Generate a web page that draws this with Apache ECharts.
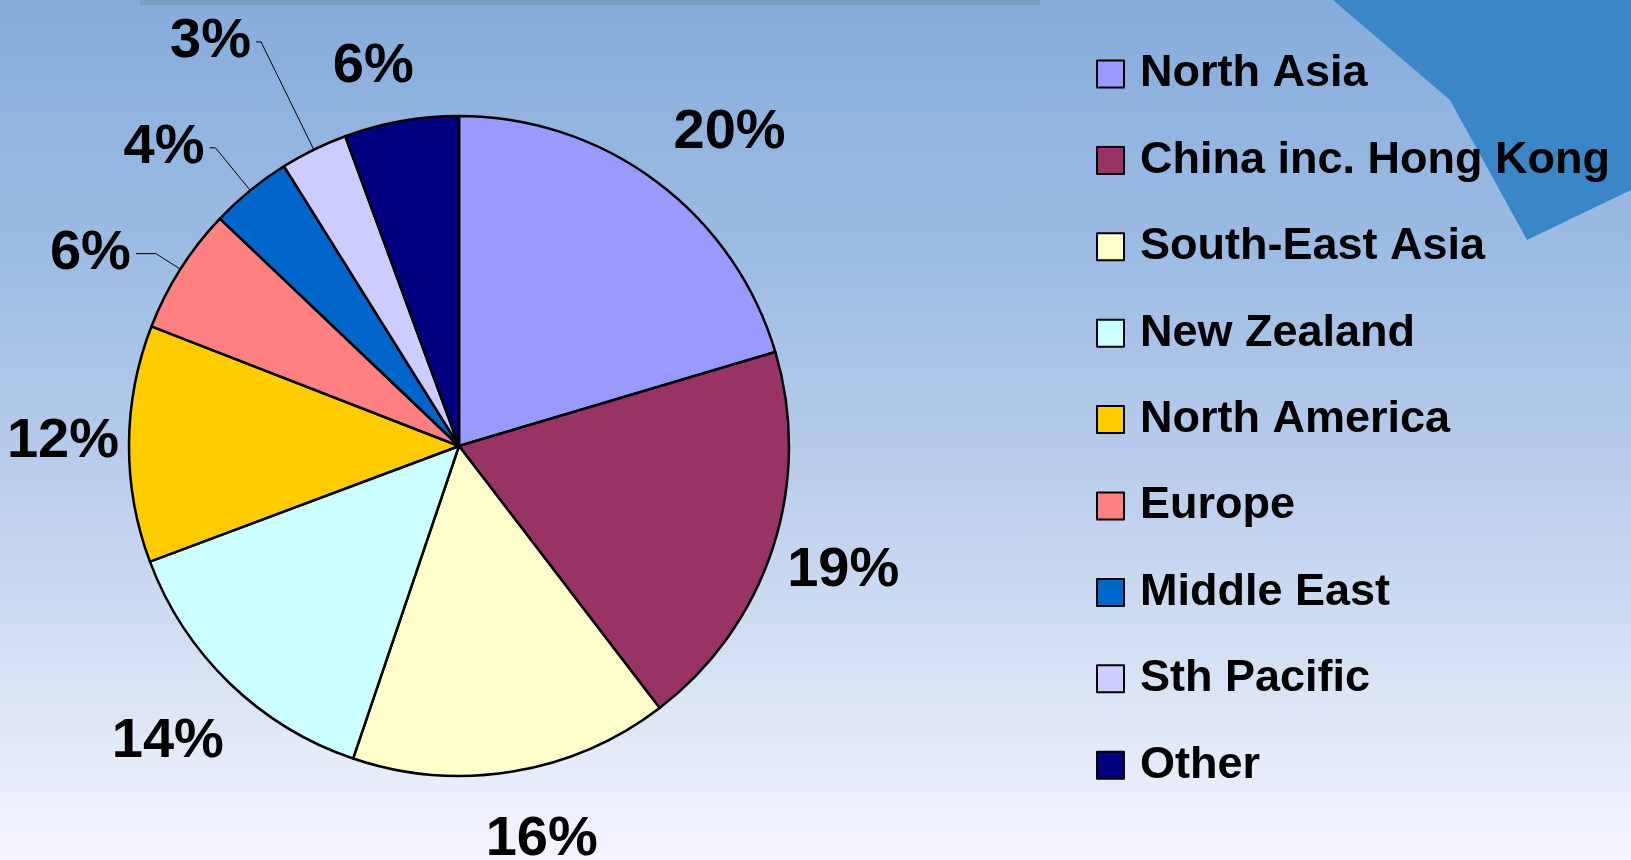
<!DOCTYPE html>
<html>
<head>
<meta charset="utf-8">
<script src="https://cdn.jsdelivr.net/npm/echarts@6/dist/echarts.min.js"></script>
<style>
html, body { margin: 0; padding: 0; }
#main {
  width: 1631px;
  height: 860px;
  background: linear-gradient(to bottom, #86acdc 0%, #9dbce4 30%, #b9cdeb 55%, #d6e2f4 78%, #f5f4ff 100%);
}
</style>
</head>
<body>
<div id="main"></div>
<script>
// share of total by region (percent)
var regions = ['North Asia', 'China inc. Hong Kong', 'South-East Asia', 'New Zealand',
  'North America', 'Europe', 'Middle East', 'Sth Pacific', 'Other'];
var shares = [20.4, 19.2, 15.6, 14.1, 11.6, 6.2, 4.0, 3.3, 5.6];

var sliceColors = ['#9999ff', '#993366', '#ffffcc', '#ccffff', '#ffcc00',
  '#ff8080', '#0066cc', '#ccccff', '#000080'];

// small slices get a leader line: [length, length2]
var leaderLines = {
  'Europe': [29, 20],
  'Middle East': [55, 6],
  'Sth Pacific': [120, 5]
};
// small shifts for the big labels, like the original's placement
var labelNudge = {
  'North Asia': [29, 10],
  'South-East Asia': [17, -5],
  'New Zealand': [-10, 5],
  'North America': [8, -2],
  'Other': [-15, 18]
};

var font = "'Liberation Sans', Arial, sans-serif";
var pctLabel = function (p) { return Math.round(p.percent) + '%'; };

var pieData = regions.map(function (name, i) {
  var item = { name: name, value: shares[i], itemStyle: { color: sliceColors[i] } };
  var ll = leaderLines[name];
  if (ll) {
    item.label = { show: true };
    item.labelLine = { show: true, length: ll[0], length2: ll[1] };
  }
  return item;
});

// transparent ring, only used to place the big labels around the pie
var ringData = regions.map(function (name, i) {
  return {
    name: name,
    value: shares[i],
    label: { show: !leaderLines[name], offset: labelNudge[name] || [0, 0] }
  };
});

var chart = echarts.init(document.getElementById('main'));
chart.setOption({
  animation: false,
  graphic: [
    {
      type: 'polygon',
      silent: true,
      z: -10,
      shape: { points: [[1333, 0], [1450, 100], [1527, 240], [1631, 190], [1631, 0]] },
      style: { fill: '#3a86c6' }
    },
    {
      type: 'rect',
      silent: true,
      z: -10,
      shape: { x: 140, y: 0, width: 900, height: 5 },
      style: { fill: 'rgba(100,150,160,0.45)' }
    }
  ],
  legend: {
    orient: 'vertical',
    left: 1091,
    top: 44,
    icon: 'rect',
    itemWidth: 27,
    itemHeight: 27,
    itemGap: 36.4,
    itemStyle: { borderColor: '#000', borderWidth: 2 },
    textStyle: {
      fontFamily: font,
      fontWeight: 'bold',
      fontSize: 45,
      lineHeight: 50,
      color: '#000',
      padding: [0, 0, 0, 11]
    },
    data: regions
  },
  series: [
    {
      name: 'Share',
      type: 'pie',
      center: [459, 446],
      radius: 330,
      startAngle: 90,
      avoidLabelOverlap: false,
      itemStyle: { borderColor: '#000', borderWidth: 2.5 },
      label: {
        show: false,
        position: 'outside',
        formatter: pctLabel,
        fontFamily: font,
        fontWeight: 'bold',
        fontSize: 56,
        color: '#000',
        distanceToLabelLine: 5
      },
      labelLine: { lineStyle: { color: '#000', width: 1 } },
      emphasis: { disabled: true },
      data: pieData
    },
    {
      name: 'labels',
      type: 'pie',
      silent: true,
      center: [459, 446],
      radius: [336, 466],
      startAngle: 90,
      avoidLabelOverlap: false,
      itemStyle: { color: 'rgba(0,0,0,0)', borderWidth: 0 },
      label: {
        position: 'inside',
        formatter: pctLabel,
        fontFamily: font,
        fontWeight: 'bold',
        fontSize: 56,
        color: '#000',
        textBorderWidth: 0
      },
      labelLine: { show: false },
      emphasis: { disabled: true },
      data: ringData
    }
  ]
});
</script>
</body>
</html>
